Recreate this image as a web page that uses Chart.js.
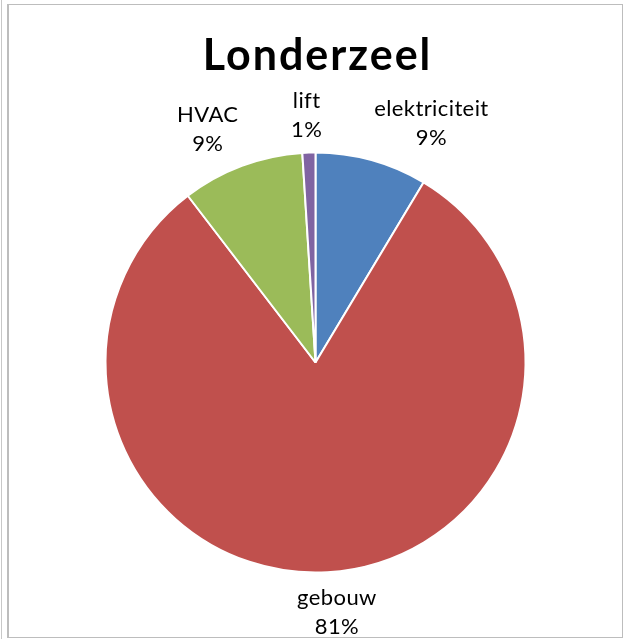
<!DOCTYPE html>
<html>
<head>
<meta charset="utf-8">
<script src="https://cdn.jsdelivr.net/npm/chart.js@4"></script>
<style>
    html, body { margin: 0; padding: 0; background: #fff; }
    #wrap { position: relative; width: 624px; height: 639px; }
    #outer { position: absolute; left: 1px; top: 0; width: 1px; height: 639px; background: #c8c8c8; }
    #frame { position: absolute; left: 7px; top: 4px; width: 613px; height: 632px; border: 1px solid #bdbdbd; border-left-width: 2px; }
    canvas { position: absolute; left: 0; top: 0; }
</style>
</head>
<body>
<div id="wrap">
    <div id="outer"></div>
    <div id="frame"></div>
    <canvas id="pie" width="624" height="639"></canvas>
</div>
<script>
const chartTitle = "Londerzeel";
const categories = ["elektriciteit", "gebouw", "HVAC", "lift"];
const shares = [8.6, 81.0, 9.4, 1.0];
const sliceColors = ["#4F81BD", "#C0504D", "#9BBB59", "#8064A2"];

const labelFont = "22px Lato";
const lineGap = 29;

// draws the title and the outside-end labels (Excel style)
const excelLabels = {
    id: 'excelLabels',
    afterDatasetsDraw(chart) {
        const ctx = chart.ctx;
        const meta = chart.getDatasetMeta(0);
        const values = chart.data.datasets[0].data;
        const total = values.reduce((a, b) => a + b, 0);

        ctx.save();
        ctx.fillStyle = "#000";
        ctx.textAlign = "center";
        ctx.textBaseline = "alphabetic";
        ctx.font = "bold 43px Lato";
        ctx.letterSpacing = "2px";
        ctx.fillText(chartTitle, 317.5, 69.5);

        ctx.font = labelFont;
        ctx.letterSpacing = "0.4px";
        ctx.textBaseline = "middle";
        meta.data.forEach(function(arc, i) {
            const mid = (arc.startAngle + arc.endAngle) / 2;
            const r = arc.outerRadius + 10;
            const px = arc.x + Math.cos(mid) * r;
            const py = arc.y + Math.sin(mid) * r;
            const lines = [chart.data.labels[i], Math.round(values[i] / total * 100) + "%"];
            const w = Math.max(...lines.map(t => ctx.measureText(t).width));
            const h = lines.length * lineGap;
            const k = 4;
            const sx = Math.max(-1, Math.min(1, Math.cos(mid) * k));
            const sy = Math.max(-1, Math.min(1, Math.sin(mid) * k));
            const cx = px + sx * w / 2;
            const cy = py + sy * h / 2;
            lines.forEach(function(t, j) {
                ctx.fillText(t, cx, cy - h / 2 + lineGap * (j + 0.5) + 1.5);
            });
        });
        ctx.restore();
    }
};

new Chart("pie", {
    type: "pie",
    data: {
        labels: categories,
        datasets: [{
            data: shares,
            backgroundColor: sliceColors,
            borderColor: "#fff",
            borderWidth: 2
        }]
    },
    options: {
        responsive: false,
        animation: false,
        layout: {
            padding: { top: 151.5, bottom: 65.5, left: 100, right: 93 }
        },
        plugins: {
            legend: { display: false },
            tooltip: { enabled: false },
            title: { display: false }
        }
    },
    plugins: [excelLabels]
});
</script>
</body>
</html>
